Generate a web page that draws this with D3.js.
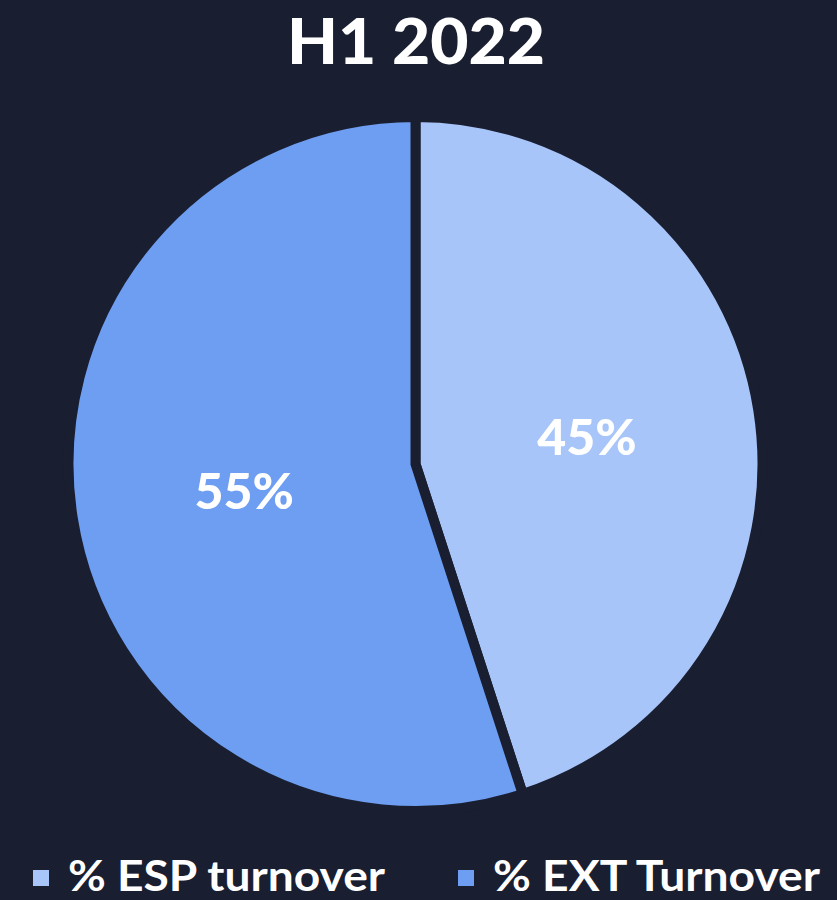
<!DOCTYPE html>
<html><head><meta charset="utf-8">
<script src="https://cdn.jsdelivr.net/npm/d3@7"></script>
<style>html,body{margin:0;padding:0;background:#1a1e31;}svg{display:block;}</style>
</head><body>
<svg id="chart" width="837" height="900"></svg>
<script>
const title = "H1 2022";
const categories = ["% ESP turnover", "% EXT Turnover"];
const values = [45, 55];
const colors = ["#a8c5f9", "#6d9ef1"];

const svg = d3.select("#chart");
const W = 837, H = 900;
svg.append("rect").attr("width", W).attr("height", H).attr("fill", "#1a1e31");

const font = "Lato, 'Open Sans', sans-serif";
svg.append("text").attr("x", 416).attr("y", 64).attr("text-anchor", "middle")
  .attr("font-family", font).attr("font-weight", 900).attr("font-size", 62)
  .attr("textLength", 258).attr("lengthAdjust", "spacingAndGlyphs")
  .attr("fill", "#ffffff").text(title);

const cx = 415.5, cy = 464, R = 347;
const pie = d3.pie().sort(null).value(d => d)(values);
const arc = d3.arc().innerRadius(0).outerRadius(R);
const g = svg.append("g").attr("transform", `translate(${cx},${cy})`);
g.selectAll("path").data(pie).enter().append("path")
  .attr("d", arc).attr("fill", (d, i) => colors[i])
  .attr("stroke", "#1a1e31").attr("stroke-width", 10).attr("stroke-linejoin", "miter");
g.selectAll("text").data(pie).enter().append("text")
  .attr("transform", d => { const c = arc.centroid(d); return `translate(${c[0]},${c[1]})`; })
  .attr("text-anchor", "middle").attr("dy", "0.36em")
  .attr("font-family", font).attr("font-weight", 900).attr("font-size", 50)
  .attr("fill", "#ffffff").text(d => d.data + "%");

const legX = [33, 458];
const leg = svg.append("g");
categories.forEach((c, i) => {
  leg.append("rect").attr("x", legX[i]).attr("y", 870).attr("width", 16).attr("height", 16).attr("fill", colors[i]);
  leg.append("text").attr("x", legX[i] + 35).attr("y", 891)
    .attr("font-family", font).attr("font-weight", 700).attr("font-size", 42)
    .attr("textLength", i === 0 ? 317 : 327).attr("lengthAdjust", "spacingAndGlyphs")
    .attr("fill", "#ffffff").text(c);
});
</script>
</body></html>
